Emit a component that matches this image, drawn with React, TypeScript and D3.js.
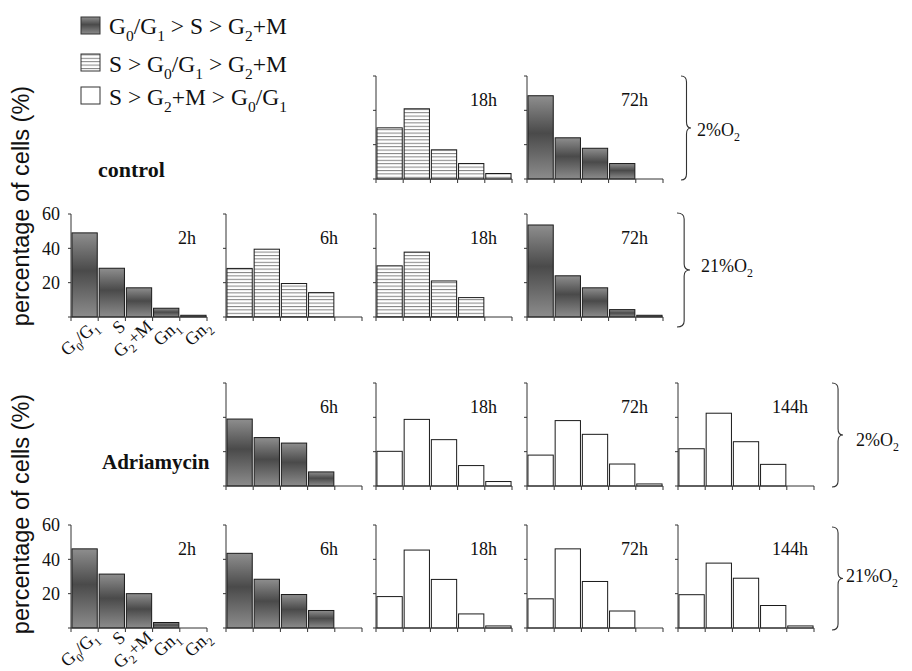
import React from 'react';
import * as d3 from 'd3';

// ---------- data ----------
const categories = ['G_0/G_1', 'S', 'G_2+M', 'Gn_1', 'Gn_2'];
const yTickValues = [0, 20, 40, 60];
const yTickLabels = ['20', '40', '60'];
const legendLabels = ['G_0/G_1 > S > G_2+M', 'S > G_0/G_1 > G_2+M', 'S > G_2+M > G_0/G_1'];
const legendKinds = ['dark', 'striped', 'white'];
const oxygenLabels = ['2%O_2', '21%O_2', '2%O_2', '21%O_2'];
const groupLabels = ['control', 'Adriamycin'];
const yAxisTitle = 'percentage of cells (%)';

// control, 2% O2
const ctrl2_18h = [29.8, 40.9, 17, 9, 3.2];
const ctrl2_72h = [48.5, 24, 17.9, 9, 0];
// control, 21% O2
const ctrl21_2h = [49, 28.4, 17, 5.1, 1];
const ctrl21_6h = [28.3, 39.5, 19.5, 14.2, 0];
const ctrl21_18h = [29.8, 37.8, 21, 11.3, 0];
const ctrl21_72h = [53.6, 24, 17, 4.3, 1];
// Adriamycin, 2% O2
const adr2_6h = [39, 28.2, 25, 8.2, 0];
const adr2_18h = [20.2, 38.8, 27, 11.9, 2.6];
const adr2_72h = [18, 38.1, 30.1, 12.8, 1.2];
const adr2_144h = [21.7, 42.4, 25.8, 12.6, 0];
// Adriamycin, 21% O2
const adr21_2h = [46.1, 31.4, 20, 3.2, 0];
const adr21_6h = [43.5, 28.4, 19.5, 10.2, 0];
const adr21_18h = [18.3, 45.4, 28.3, 8.2, 1.2];
const adr21_72h = [17, 46.1, 27.1, 9.9, 0];
const adr21_144h = [19.4, 37.8, 29, 13.1, 1.2];

type Panel = { row: number; col: number; label: string; kind: string; values: number[]; labelDx?: number };

const panels: Panel[] = [
  { row: 0, col: 2, label: '18h', kind: 'striped', values: ctrl2_18h },
  { row: 0, col: 3, label: '72h', kind: 'dark', values: ctrl2_72h },
  { row: 1, col: 0, label: '2h', kind: 'dark', values: ctrl21_2h, labelDx: 107 },
  { row: 1, col: 1, label: '6h', kind: 'striped', values: ctrl21_6h },
  { row: 1, col: 2, label: '18h', kind: 'striped', values: ctrl21_18h },
  { row: 1, col: 3, label: '72h', kind: 'dark', values: ctrl21_72h },
  { row: 2, col: 1, label: '6h', kind: 'dark', values: adr2_6h },
  { row: 2, col: 2, label: '18h', kind: 'white', values: adr2_18h },
  { row: 2, col: 3, label: '72h', kind: 'white', values: adr2_72h },
  { row: 2, col: 4, label: '144h', kind: 'white', values: adr2_144h },
  { row: 3, col: 0, label: '2h', kind: 'dark', values: adr21_2h, labelDx: 107 },
  { row: 3, col: 1, label: '6h', kind: 'dark', values: adr21_6h },
  { row: 3, col: 2, label: '18h', kind: 'white', values: adr21_18h },
  { row: 3, col: 3, label: '72h', kind: 'white', values: adr21_72h },
  { row: 3, col: 4, label: '144h', kind: 'white', values: adr21_144h },
];

// ---------- layout ----------
const W = 912;
const H = 671;
const colX = [71, 226, 376, 527, 678];
const rowBottom = [179, 317, 486, 628];
const panelW = 136;
const panelH = 103;
const braces = [
  { top: 76, bottom: 180, x: 681, tip: 691, lx: 697, ly: 136 },
  { top: 213, bottom: 327, x: 677, tip: 690, lx: 701, ly: 272 },
  { top: 383, bottom: 487, x: 832, tip: 843, lx: 856, ly: 446 },
  { top: 527, bottom: 630, x: 832, tip: 843, lx: 846, ly: 582 },
];
const SERIF = '"Liberation Serif", "Times New Roman", serif';
const SANS = '"Liberation Sans", Arial, sans-serif';

function rich(s: string, fs: number) {
  const parts = s.split(/_(\w)/);
  const out: React.ReactNode[] = [];
  let shifted = false;
  parts.forEach((p, i) => {
    if (i % 2 === 1) {
      out.push(
        <tspan key={i} dy={fs * 0.28} fontSize={fs * 0.66}>
          {p}
        </tspan>
      );
      shifted = true;
    } else if (p) {
      out.push(
        <tspan key={i} dy={shifted ? -fs * 0.28 : 0}>
          {p}
        </tspan>
      );
      shifted = false;
    }
  });
  return out;
}

function fillFor(kind: string) {
  if (kind === 'dark') return 'url(#darkGrad)';
  if (kind === 'striped') return 'url(#stripes)';
  return '#ffffff';
}

function PanelView({ p }: { p: Panel }) {
  const x0 = colX[p.col];
  const yb = rowBottom[p.row];
  const x = d3.scaleBand<string>().domain(categories).range([x0, x0 + panelW]).paddingInner(0.07).paddingOuter(0.035);
  const y = d3.scaleLinear().domain([0, 60]).range([yb, yb - panelH]);
  const step = x.step();
  const axisColor = '#333';
  return (
    <g>
      {categories.map((c, i) => {
        const v = p.values[i];
        if (!v) return null;
        return (
          <rect
            key={c}
            x={x(c)}
            y={y(v)}
            width={x.bandwidth()}
            height={y(0) - y(v)}
            fill={fillFor(p.kind)}
            stroke="#1a1a1a"
            strokeWidth={1}
          />
        );
      })}
      {/* y axis */}
      <line x1={x0} x2={x0} y1={y(60)} y2={y(0)} stroke={axisColor} strokeWidth={1} />
      {yTickValues.map((t) => (
        <line key={t} x1={x0 - 3} x2={x0} y1={y(t)} y2={y(t)} stroke={axisColor} strokeWidth={1} />
      ))}
      {/* x axis */}
      <line x1={x0} x2={x0 + panelW} y1={y(0)} y2={y(0)} stroke={axisColor} strokeWidth={1} />
      {d3.range(categories.length + 1).map((i) => (
        <line key={i} x1={x0 + i * step} x2={x0 + i * step} y1={y(0)} y2={y(0) + 4} stroke={axisColor} strokeWidth={1} />
      ))}
      <text x={x0 + (p.labelDx ?? 94)} y={y(60) + 30} fontFamily={SERIF} fontSize={18} fill="#111">
        {p.label}
      </text>
      {p.col === 0 && (
        <g>
          {yTickLabels.map((t) => (
            <text key={t} x={x0 - 11} y={y(+t)} dy="0.35em" textAnchor="end" fontFamily={SERIF} fontSize={18} fill="#111">
              {t}
            </text>
          ))}
          {categories.map((c, i) => {
            const ax = x0 + (i + 1) * step + 1 + (i === 4 ? 4 : 0);
            const ay = y(0) + 11;
            return (
              <g key={c} transform={`translate(${ax},${ay}) rotate(-42)`}>
                <text x={0} y={0} textAnchor="end" fontFamily={SERIF} fontSize={18} fill="#111">
                  {rich(c, 18)}
                </text>
              </g>
            );
          })}
        </g>
      )}
    </g>
  );
}

function bracePath(b: { top: number; bottom: number; x: number; tip: number }) {
  const mid = (b.top + b.bottom) / 2;
  const vx = b.x + (b.tip - b.x) * 0.55;
  const r = 6;
  return `M${b.x},${b.top} Q${vx},${b.top} ${vx},${b.top + r} L${vx},${mid - r} Q${vx},${mid} ${b.tip},${mid} Q${vx},${mid} ${vx},${mid + r} L${vx},${b.bottom - r} Q${vx},${b.bottom} ${b.x},${b.bottom}`;
}

export default function App() {
  const legendSquareY = [17, 54, 87];
  const legendTextY = [34, 72, 105];
  return (
    <svg width={W} height={H} style={{ position: 'absolute', left: 0, top: 0, background: '#fff' }}>
      <defs>
        <linearGradient id="darkGrad" x1="0" y1="0" x2="0" y2="1">
          <stop offset="0" stopColor="#8e8e8e" />
          <stop offset="0.45" stopColor="#4a4a4a" />
          <stop offset="1" stopColor="#8c8c8c" />
        </linearGradient>
        <pattern id="stripes" patternUnits="userSpaceOnUse" width="8" height="3.4">
          <rect width="8" height="3.4" fill="#fff" />
          <line x1="0" x2="8" y1="0.5" y2="0.5" stroke="#808080" strokeWidth="1" />
        </pattern>
      </defs>

      {/* legend */}
      {legendLabels.map((l, i) => (
        <g key={l}>
          <rect x={81} y={legendSquareY[i]} width={19} height={17} fill={fillFor(legendKinds[i])} stroke="#333" strokeWidth={1} />
          <text x={109} y={legendTextY[i]} fontFamily={SERIF} fontSize={23.5} fill="#111" style={{ whiteSpace: 'pre' }}>
            {rich(l, 23.5)}
          </text>
        </g>
      ))}

      {/* group labels */}
      <text x={98} y={177} fontFamily={SERIF} fontWeight="bold" fontSize={22} fill="#111">
        {groupLabels[0]}
      </text>
      <text x={102} y={469} fontFamily={SERIF} fontWeight="bold" fontSize={21} fill="#111">
        {groupLabels[1]}
      </text>

      {/* y axis titles */}
      <text transform="translate(29,206) rotate(-90)" textAnchor="middle" fontFamily={SANS} fontSize={23.5} fill="#111">
        {yAxisTitle}
      </text>
      <text transform="translate(29,514) rotate(-90)" textAnchor="middle" fontFamily={SANS} fontSize={23.5} fill="#111">
        {yAxisTitle}
      </text>

      {panels.map((p, i) => (
        <PanelView key={i} p={p} />
      ))}

      {braces.map((b, i) => (
        <g key={i}>
          <path d={bracePath(b)} fill="none" stroke="#333" strokeWidth={1.1} />
          <text x={b.lx} y={b.ly} fontFamily={SERIF} fontSize={18} fill="#111">
            {rich(oxygenLabels[i], 18)}
          </text>
        </g>
      ))}
    </svg>
  );
}
